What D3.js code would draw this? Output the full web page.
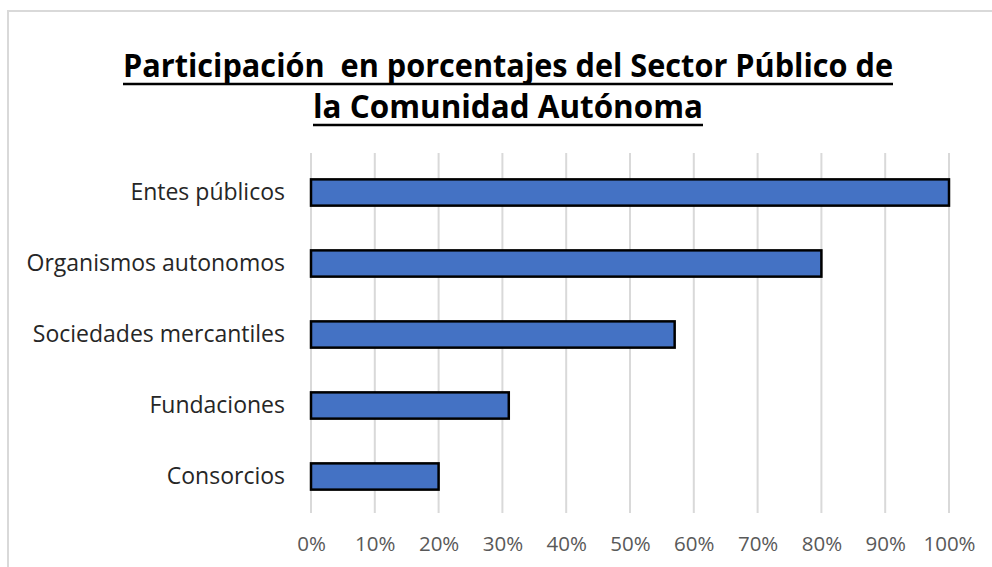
<!DOCTYPE html>
<html>
<head>
<meta charset="utf-8">
<script src="https://cdn.jsdelivr.net/npm/d3@7"></script>
<style>
  html, body { margin: 0; padding: 0; background: #fff; }
  svg { display: block; }
</style>
</head>
<body>
<div id="chart"></div>
<script>
// --- Data ---
const categories = ["Entes públicos", "Organismos autonomos", "Sociedades mercantiles", "Fundaciones", "Consorcios"];
const values = [1.00, 0.80, 0.57, 0.31, 0.20];
const ticks = [0, 0.1, 0.2, 0.3, 0.4, 0.5, 0.6, 0.7, 0.8, 0.9, 1.0];
const titleLines = ["Participación  en porcentajes del Sector Público de", "la Comunidad Autónoma"];

// --- Dimensions ---
const W = 992, H = 567;
const plot = { left: 311, right: 949, top: 153, bottom: 513 };

const svg = d3.select('#chart').append('svg')
    .attr('width', W)
    .attr('height', H);

// chart border (runs off the right and bottom edge)
svg.append('rect')
    .attr('x', 8).attr('y', 11)
    .attr('width', W + 20).attr('height', H + 20)
    .attr('fill', '#fff')
    .attr('stroke', '#d9d9d9')
    .attr('stroke-width', 2);

// --- Scales ---
const x = d3.scaleLinear().domain([0, 1]).range([plot.left, plot.right]);
const y = d3.scaleBand().domain(categories).range([157, 512]).paddingInner(0.63).paddingOuter(0.315);

// --- Title ---
const titleG = svg.append('g');
const titleWidths = [770, 390];
const titleCx = W / 2 + 12;
titleLines.forEach((t, i) => {
    titleG.append('text')
        .attr('x', titleCx)
        .attr('y', 77 + i * 41)
        .attr('text-anchor', 'middle')
        .attr('font-family', '"Open Sans", sans-serif')
        .attr('font-weight', 'bold')
        .attr('font-size', 33)
        .attr('fill', '#000')
        .attr('textLength', titleWidths[i])
        .attr('lengthAdjust', 'spacingAndGlyphs')
        .style('white-space', 'pre')
        .text(t);
    // underline
    titleG.append('line')
        .attr('x1', titleCx - titleWidths[i] / 2)
        .attr('x2', titleCx + titleWidths[i] / 2)
        .attr('y1', 84 + i * 41)
        .attr('y2', 84 + i * 41)
        .attr('stroke', '#000')
        .attr('stroke-width', 2.5);
});

// --- Gridlines ---
svg.append('g')
    .selectAll('line')
    .data(ticks)
    .join('line')
    .attr('x1', d => x(d)).attr('x2', d => x(d))
    .attr('y1', plot.top).attr('y2', plot.bottom)
    .attr('stroke', '#d9d9d9')
    .attr('stroke-width', 2);

// --- X axis labels ---
const xAxis = d3.axisBottom(x).tickValues(ticks).tickFormat(d3.format('.0%')).tickSize(0).tickPadding(0);
const axisG = svg.append('g')
    .attr('transform', `translate(0,${plot.bottom + 23})`)
    .call(xAxis);
axisG.select('.domain').remove();
axisG.selectAll('text')
    .attr('font-family', '"Open Sans", sans-serif')
    .attr('font-size', 20.5)
    .attr('fill', '#595959')
    .attr('dy', '0.71em');

// --- Y axis labels ---
const yAxis = d3.axisLeft(y).tickSize(0).tickPadding(26);
const yG = svg.append('g')
    .attr('transform', `translate(${plot.left},0)`)
    .call(yAxis);
yG.select('.domain').remove();
yG.selectAll('text')
    .attr('font-family', '"Open Sans", sans-serif')
    .attr('font-size', 23)
    .attr('fill', '#262626');

// --- Bars ---
svg.append('g')
    .selectAll('rect')
    .data(categories)
    .join('rect')
    .attr('x', x(0))
    .attr('y', d => y(d))
    .attr('width', (d, i) => x(values[i]) - x(0))
    .attr('height', y.bandwidth())
    .attr('fill', '#4472c4')
    .attr('stroke', '#000')
    .attr('stroke-width', 2.5);
</script>
</body>
</html>
